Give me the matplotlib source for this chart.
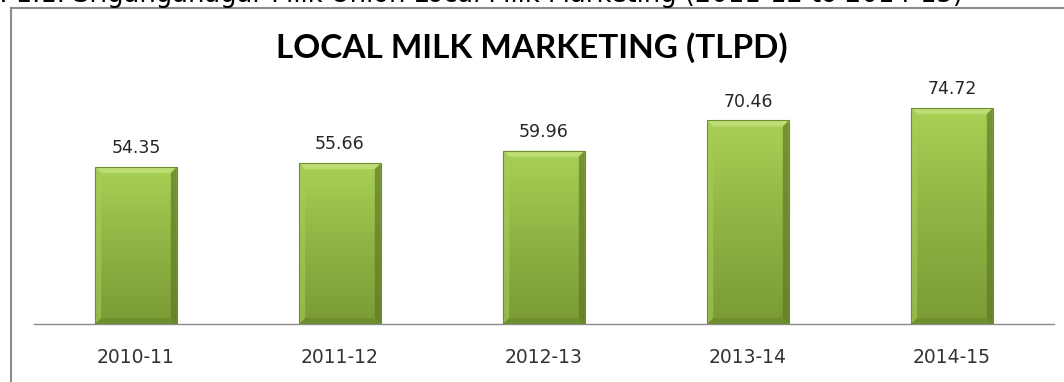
import numpy as np
import matplotlib
matplotlib.use("Agg")
import matplotlib.pyplot as plt
from matplotlib.patches import Polygon
from matplotlib.lines import Line2D
from matplotlib.colors import LinearSegmentedColormap

# Local milk marketing per year (TLPD)
years = ['2010-11', '2011-12', '2012-13', '2013-14', '2014-15']
tlpd = [54.35, 55.66, 59.96, 70.46, 74.72]

caption = 'Fig. 1.1. Sriganganagar Milk Union Local Milk Marketing (2011-12 to 2014-15)'
title = 'LOCAL MILK MARKETING (TLPD)'

W, H = 1064, 382
fig = plt.figure(figsize=(W / 100, H / 100), dpi=100)
fig.patch.set_facecolor('white')

ax = fig.add_axes([34 / W, (H - 324) / H, 1020 / W, 260 / H])
ax.set_xlim(-0.5, len(years) - 0.5)
ax.set_ylim(0, 90)

x = np.arange(len(years))
bar_w = 0.40
bars = ax.bar(x, tlpd, width=bar_w, color='none', edgecolor='none', zorder=2)

# vertical green gradient inside each bar
green = LinearSegmentedColormap.from_list('g', ['#7b9a34', '#8fb444', '#a9d155'])
grad = np.linspace(0, 1, 256).reshape(-1, 1)

# bevel size in data units (about 6 px)
bx = 6 / 204.0
by = 6 / (260 / 90)

for b, v in zip(bars, tlpd):
    x0 = b.get_x()
    x1 = x0 + b.get_width()
    im = ax.imshow(grad, cmap=green, aspect='auto', origin='lower',
                   extent=[x0, x1, 0, v], zorder=2)
    im.set_clip_path(b)
    # bevel faces: top light, left slightly light, right and bottom dark
    faces = [
        ([(x0, v), (x1, v), (x1 - bx, v - by), (x0 + bx, v - by)], '#c2e07a', 0.85),
        ([(x0, 0), (x0, v), (x0 + bx, v - by), (x0 + bx, by)], '#a6cc58', 0.6),
        ([(x1, 0), (x1, v), (x1 - bx, v - by), (x1 - bx, by)], '#5f7a26', 0.7),
        ([(x0, 0), (x1, 0), (x1 - bx, by), (x0 + bx, by)], '#6a8a2c', 0.7),
    ]
    for pts, c, a in faces:
        ax.add_patch(Polygon(pts, closed=True, facecolor=c, edgecolor='none',
                             alpha=a, zorder=3))
    ax.add_patch(Polygon([(x0, 0), (x0, v), (x1, v), (x1, 0)], closed=True,
                         facecolor='none', edgecolor='#6f8d2e', lw=0.8, zorder=4))
    ax.annotate(f'{v:.2f}', (b.get_x() + b.get_width() / 2, v),
                xytext=(0, 10), textcoords='offset points', ha='center', va='baseline',
                fontsize=12.5, color='#262626', family='DejaVu Sans')

for s in ['top', 'right', 'left']:
    ax.spines[s].set_visible(False)
ax.spines['bottom'].set_color('#8c8c8c')
ax.spines['bottom'].set_linewidth(1.0)
ax.set_yticks([])
ax.set_xticks(x)
ax.set_xticklabels(years, fontsize=13.5, color='#333333', family='DejaVu Sans')
ax.tick_params(axis='x', length=0, pad=17)
ax.set_facecolor('none')

# chart frame (left and top edges)
fig.add_artist(Line2D([10.5 / W, 10.5 / W], [0, 1 - 8 / H], color='#8c8c8c', lw=1.5))
fig.add_artist(Line2D([10.5 / W, 1], [1 - 8 / H, 1 - 8 / H], color='#8c8c8c', lw=1.5))

fig.text(532 / W, 1 - 48 / H, title, ha='center', va='center',
         fontsize=24, fontweight='bold', family='Lato', color='black')

# caption above the chart, mostly cropped at the top edge
fig.text(963 / W, 1 - 2 / H, caption, ha='right', va='baseline',
         fontsize=18.5, family='DejaVu Sans', color='black')

fig.savefig('out.png', dpi=100)
